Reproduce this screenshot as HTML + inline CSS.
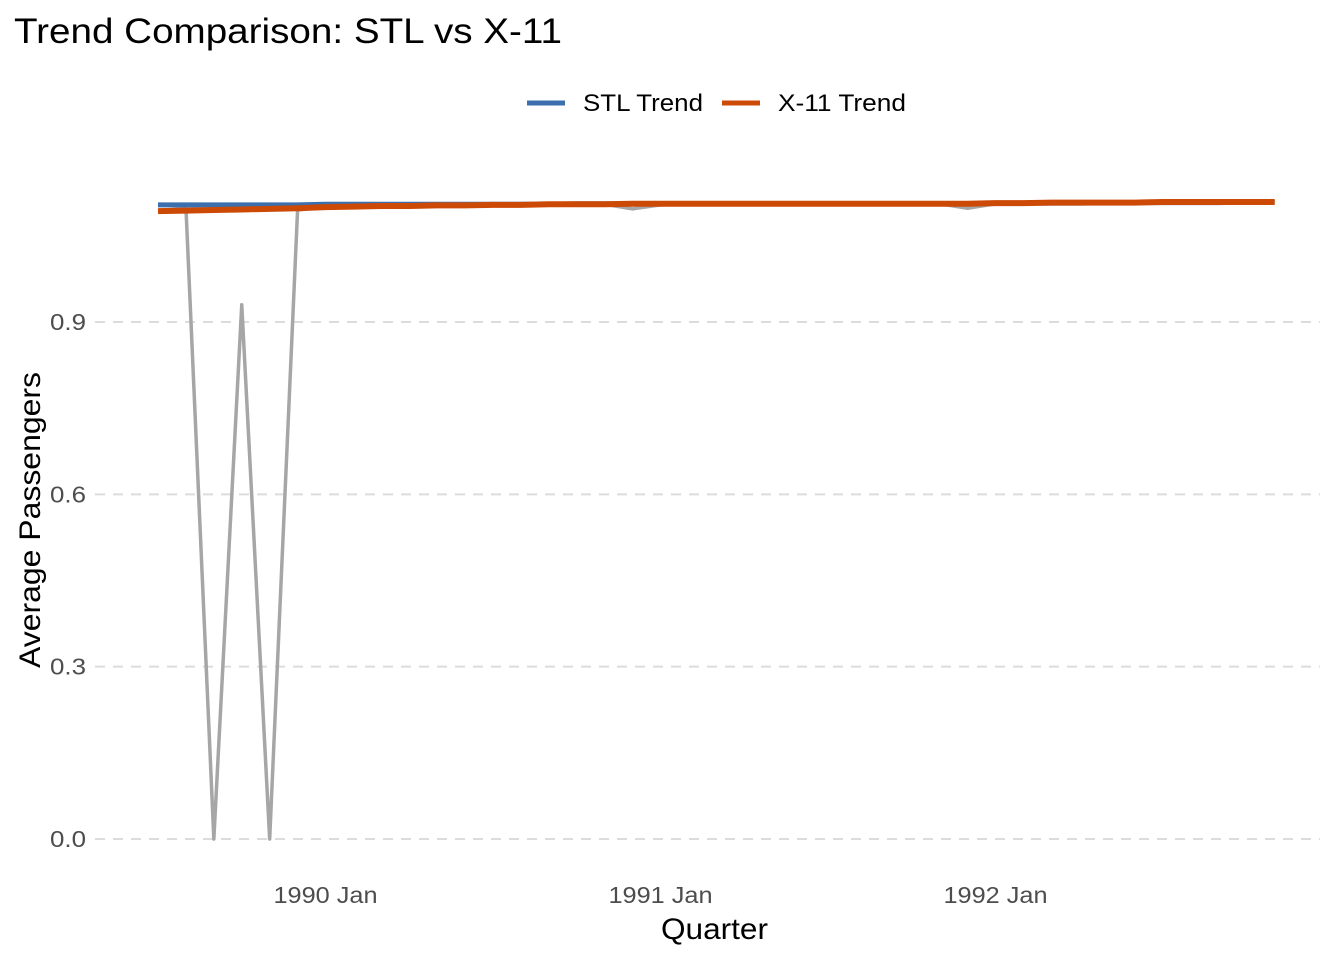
<!DOCTYPE html>
<html><head><meta charset="utf-8"><style>
body{margin:0;background:#fff;font-family:"Liberation Sans",Arial,sans-serif}
</style></head><body>
<svg width="1344" height="960" font-family="Liberation Sans, Arial, sans-serif">
<text x="14" y="43" font-size="35" textLength="548" lengthAdjust="spacingAndGlyphs" fill="#000">Trend Comparison: STL vs X-11</text>
<g>
<line x1="527" y1="103" x2="565" y2="103" stroke="#3B6FAD" stroke-width="5"/>
<text x="583" y="111" font-size="24" textLength="120" lengthAdjust="spacingAndGlyphs">STL Trend</text>
<line x1="722" y1="103" x2="760" y2="103" stroke="#CC4A06" stroke-width="5"/>
<text x="778" y="111" font-size="24" textLength="128" lengthAdjust="spacingAndGlyphs">X-11 Trend</text>
</g>
<g id="grid"></g><g id="series"></g><g id="axes"></g>
<text x="661" y="939" font-size="30" textLength="107" lengthAdjust="spacingAndGlyphs">Quarter</text>
<text transform="translate(40,668) rotate(-90)" font-size="30" textLength="296" lengthAdjust="spacingAndGlyphs">Average Passengers</text>
</svg>
<script>
const raw=[1.105,1.10,0,0.93,0,1.095,1.100,1.102,1.103,1.103,1.103,1.104,1.104,1.104,1.105,1.105,1.105,1.097,1.104,1.105,1.105,1.105,1.105,1.105,1.106,1.106,1.106,1.106,1.106,1.098,1.106,1.107,1.107,1.107,1.107,1.108,1.108,1.108,1.108,1.109,1.109];
const stl=[1.104,1.104,1.104,1.104,1.104,1.104,1.105,1.105,1.105,1.105,1.105,1.105,1.105,1.105,1.105,1.106,1.106,1.106,1.106,1.106,1.106,1.106,1.106,1.106,1.106,1.106,1.106,1.106,1.106,1.106,1.107,1.107,1.107,1.107,1.108,1.108,1.108,1.108,1.108,1.109,1.109];
const x11=[1.093,1.094,1.095,1.096,1.097,1.098,1.100,1.101,1.102,1.102,1.103,1.103,1.104,1.104,1.105,1.105,1.105,1.106,1.106,1.106,1.106,1.106,1.106,1.106,1.106,1.106,1.106,1.106,1.106,1.106,1.107,1.107,1.108,1.108,1.108,1.108,1.109,1.109,1.109,1.109,1.109];
const yTicks=[0,0.3,0.6,0.9];
const yTickLabels=["0.0","0.3","0.6","0.9"];
const xTickMonths=[6,18,30];
const xTickLabels=["1990 Jan","1991 Jan","1992 Jan"];
const X=m=>158+m*(335/12);
const Y=v=>839-v*574.4;
const ns="http://www.w3.org/2000/svg";
const grid=document.getElementById('grid'),ser=document.getElementById('series'),ax=document.getElementById('axes');
yTicks.forEach((t,i)=>{
 const l=document.createElementNS(ns,'line');
 l.setAttribute('x1',95);l.setAttribute('x2',1320);l.setAttribute('y1',Y(t));l.setAttribute('y2',Y(t));
 l.setAttribute('stroke','#dcdcdc');l.setAttribute('stroke-width',2);l.setAttribute('stroke-dasharray','10,8');
 
 
 grid.appendChild(l);
 const tx=document.createElementNS(ns,'text');
 tx.setAttribute('x',86);tx.setAttribute('y',Y(t)+8);tx.setAttribute('text-anchor','end');tx.setAttribute('font-size',23);tx.setAttribute('fill','#4d4d4d');
 tx.setAttribute('textLength',36);tx.setAttribute('lengthAdjust','spacingAndGlyphs');
 tx.textContent=yTickLabels[i];
 
 
 ax.appendChild(tx);
});
xTickMonths.forEach((m,i)=>{
 const tx=document.createElementNS(ns,'text');
 tx.setAttribute('x',X(m)-52);tx.setAttribute('y',903);tx.setAttribute('font-size',23);tx.setAttribute('fill','#4d4d4d');
 tx.setAttribute('textLength',104);tx.setAttribute('lengthAdjust','spacingAndGlyphs');
 tx.textContent=xTickLabels[i];
 
 
 ax.appendChild(tx);
});
function line(arr,color,w,name){
 const p=document.createElementNS(ns,'polyline');
 p.setAttribute('points',arr.map((v,i)=>X(i)+','+Y(v)).join(' '));
 p.setAttribute('fill','none');p.setAttribute('stroke',color);p.setAttribute('stroke-width',w);p.setAttribute('stroke-linejoin','round');
 
 
 ser.appendChild(p);
}
line(raw,'#a6a6a6',3.5,'raw-series-line');
line(stl,'#3B6FAD',5,'stl-trend-line');
line(x11,'#CC4A06',6,'x11-trend-line');
</script>
</body></html>
